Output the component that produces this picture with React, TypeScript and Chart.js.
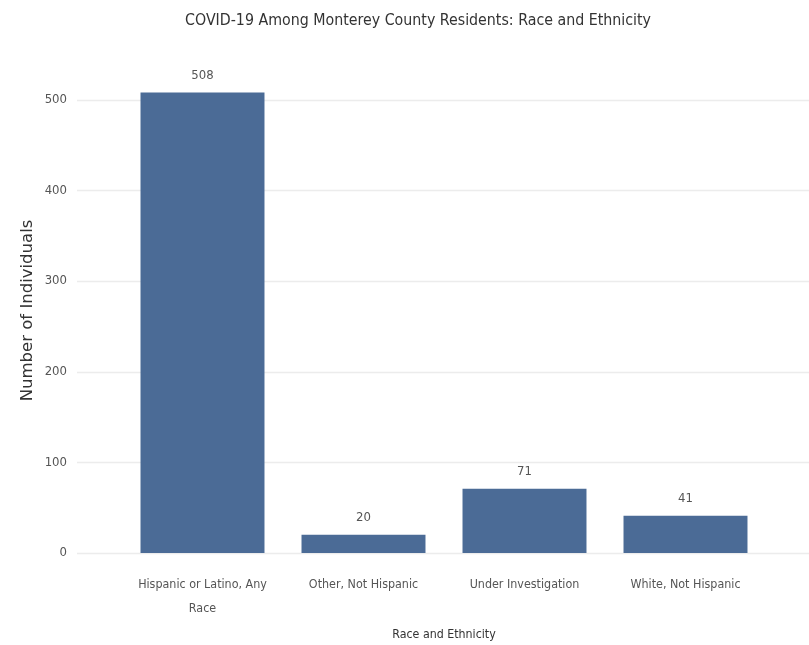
import React, { useEffect, useRef } from "react";
import { Chart, registerables } from "chart.js";

Chart.register(...registerables);

const categories: (string | string[])[] = [
  ["Hispanic or Latino, Any", "Race"],
  "Other, Not Hispanic",
  "Under Investigation",
  "White, Not Hispanic",
];
const cases: number[] = [508, 20, 71, 41];
const yTicks: number[] = [0, 100, 200, 300, 400, 500];

const NARROW = "'Liberation Sans Narrow', 'DejaVu Sans Condensed', sans-serif";

const gridPlugin = {
  id: "wideGrid",
  beforeDatasetsDraw(chart: any) {
    const { ctx } = chart;
    const y = chart.scales.y;
    ctx.save();
    ctx.strokeStyle = "#ececec";
    ctx.lineWidth = 1.5;
    y.ticks.forEach((t: any) => {
      const py = Math.round(y.getPixelForValue(t.value)) + 0.5;
      ctx.beginPath();
      ctx.moveTo(77, py);
      ctx.lineTo(chart.width, py);
      ctx.stroke();
    });
    ctx.restore();
  },
};

const labelPlugin = {
  id: "barLabels",
  afterDatasetsDraw(chart: any) {
    const { ctx } = chart;
    const meta = chart.getDatasetMeta(0);
    ctx.save();
    ctx.font = `13px ${NARROW}`;
    ctx.fillStyle = "#555";
    ctx.textAlign = "center";
    ctx.textBaseline = "middle";
    meta.data.forEach((bar: any, i: number) => {
      ctx.fillText(String(chart.data.datasets[0].data[i]), bar.x, bar.y - 17);
    });
    ctx.restore();
  },
};

export default function App() {
  const ref = useRef<HTMLCanvasElement>(null);
  useEffect(() => {
    if (!ref.current) return;
    const chart = new Chart(ref.current, {
      type: "bar",
      data: {
        labels: categories,
        datasets: [
          {
            data: cases,
            backgroundColor: "#4b6b96",
            barPercentage: 0.77,
            categoryPercentage: 1,
          },
        ],
      },
      options: {
        animation: false,
        responsive: true,
        maintainAspectRatio: false,
        layout: { padding: { left: 27, right: 0, top: 0, bottom: 0 } },
        plugins: {
          legend: { display: false },
          tooltip: { enabled: false },
          title: {
            display: true,
            text: "COVID-19 Among Monterey County Residents: Race and Ethnicity",
            color: "#333",
            font: { family: NARROW, size: 15.8, weight: "normal", lineHeight: 1.2 },
            padding: { top: 11, bottom: 38 },
          },
        },
        scales: {
          x: {
            grid: { display: false, drawTicks: false },
            border: { display: false },
            ticks: {
              color: "#555",
              font: { family: NARROW, size: 12.4, lineHeight: 1.93 },
              padding: 20,
              maxRotation: 0,
              autoSkip: false,
            },
            title: {
              display: true,
              text: "Race and Ethnicity",
              color: "#333",
              font: { family: NARROW, size: 12.3, lineHeight: 1.2 },
              padding: { top: 0, bottom: 3 },
            },
            afterFit(scale: any) {
              scale.height = 92;
            },
          },
          y: {
            min: 0,
            max: 535,
            afterBuildTicks(scale: any) {
              scale.ticks = yTicks.map((v) => ({ value: v }));
            },
            grid: { display: false, drawTicks: false },
            border: { display: false },
            ticks: {
              color: "#555",
              font: { family: NARROW, size: 13 },
              padding: 55,
            },
            title: {
              display: true,
              text: "Number of Individuals",
              color: "#333",
              font: { family: "'DejaVu Sans', sans-serif", size: 16.5, lineHeight: 1.2 },
              padding: { top: -9, bottom: 0 },
            },
            afterFit(scale: any) {
              scale.width = 95;
            },
          },
          yRight: {
            position: "right",
            display: true,
            grid: { display: false, drawTicks: false },
            border: { display: false },
            ticks: { display: false },
            afterFit(scale: any) {
              scale.width = 43;
            },
          },
        },
      },
      plugins: [gridPlugin, labelPlugin],
    });
    return () => chart.destroy();
  }, []);
  return (
    <div style={{ position: "fixed", left: 0, top: 0, width: 809, height: 645, background: "#fff" }}>
      <canvas ref={ref} />
    </div>
  );
}
